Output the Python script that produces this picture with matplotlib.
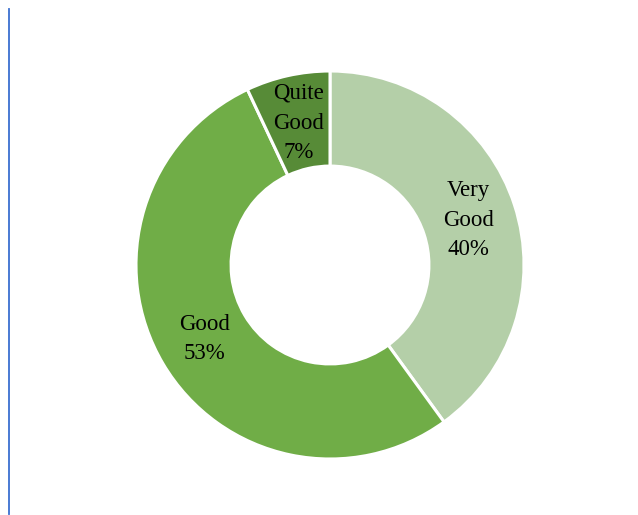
import matplotlib
matplotlib.use("Agg")
import matplotlib.pyplot as plt
import numpy as np

categories = ["Very\nGood", "Good", "Quite\nGood"]
values = [40, 53, 7]
colors = ["#B4CFA8", "#70AD47", "#578B37"]

W, H = 638, 515
fig = plt.figure(figsize=(W / 100, H / 100), dpi=100)
cx, cy, R = 330, 265, 194
ax = fig.add_axes([(cx - R) / W, (H - cy - R) / H, 2 * R / W, 2 * R / H])
wedges, _ = ax.pie(values, colors=colors, startangle=90, counterclock=False,
                   radius=1, wedgeprops=dict(width=0.49, edgecolor="white", linewidth=2.2))
ax.set_xlim(-1, 1)
ax.set_ylim(-1, 1)
ax.set_aspect("equal")
ax.axis("off")

total = sum(values)
for w, cat, v in zip(wedges, categories, values):
    ang = np.deg2rad((w.theta1 + w.theta2) / 2)
    r = 0.75
    ax.text(r * np.cos(ang), r * np.sin(ang), f"{cat}\n{v / total * 100:.0f}%",
            ha="center", va="center", fontsize=16.5, family="Liberation Serif",
            linespacing=1.55, color="black")

fig.add_artist(plt.Line2D([8.5 / W, 8.5 / W], [1 - 9 / H, 1 - 514 / H],
                          transform=fig.transFigure, color="#3A6FD0", linewidth=1.3))
fig.savefig("out.png", dpi=100, facecolor="white")
